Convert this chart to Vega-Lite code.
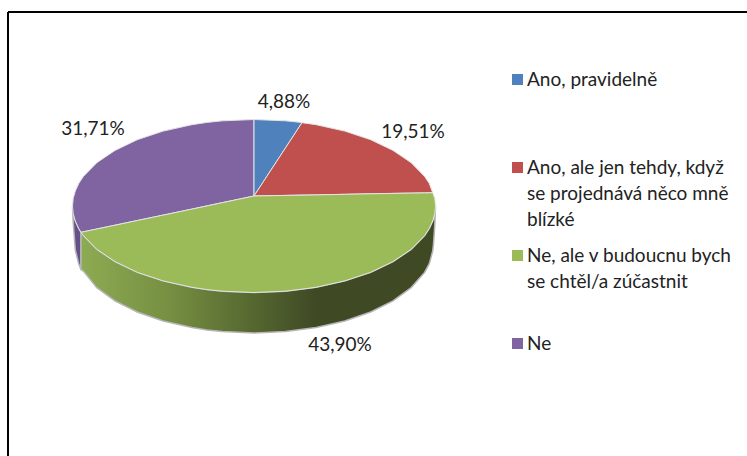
{
  "$schema": "https://vega.github.io/schema/vega-lite/v6.json",
  "width": 747, "height": 456,
  "autosize": "none",
  "padding": 0,
  "background": "white",
  "view": {"stroke": null},
  "config": {"style": {"guide-label": {"lineHeight": 26}}},
  "datasets": {
    "slices": [
      {"category":"Ne","x":72.5,"y":206,"y2":206},{"category":"Ne","x":73.2,"y":198.5,"y2":213.5},{"category":"Ne","x":75.3,"y":191,"y2":221},{"category":"Ne","x":78.7,"y":183.6,"y2":228.4},{"category":"Ne","x":81,"y":180,"y2":232.3},{"category":"Ne","x":83.4,"y":176.4,"y2":231.8},{"category":"Ne","x":96.8,"y":162.7,"y2":229},{"category":"Ne","x":115,"y":150.4,"y2":225.2},{"category":"Ne","x":137.3,"y":139.7,"y2":220.5},{"category":"Ne","x":163.2,"y":131.1,"y2":215.1},{"category":"Ne","x":191.9,"y":124.7,"y2":209.1},{"category":"Ne","x":207,"y":122.4,"y2":205.9},{"category":"Ne","x":222.5,"y":120.8,"y2":202.6},{"category":"Ne","x":254,"y":119.5,"y2":196},
      {"category":"Ano, pravidelně","x":254,"y":119.5,"y2":196},{"category":"Ano, pravidelně","x":285.5,"y":120.8,"y2":147.9},{"category":"Ano, pravidelně","x":301,"y":122.4,"y2":124.2},{"category":"Ano, pravidelně","x":302,"y":122.7,"y2":122.7},
      {"category":"Ano, ale jen tehdy, když se projednává něco mně blízké","x":254,"y":196,"y2":196},{"category":"Ano, ale jen tehdy, když se projednává něco mně blízké","x":302,"y":122.7,"y2":195.1},{"category":"Ano, ale jen tehdy, když se projednává něco mně blízké","x":316.1,"y":124.7,"y2":194.9},{"category":"Ano, ale jen tehdy, když se projednává něco mně blízké","x":344.8,"y":131.1,"y2":194.3},{"category":"Ano, ale jen tehdy, když se projednává něco mně blízké","x":370.7,"y":139.7,"y2":193.8},{"category":"Ano, ale jen tehdy, když se projednává něco mně blízké","x":393,"y":150.4,"y2":193.4},{"category":"Ano, ale jen tehdy, když se projednává něco mně blízké","x":411.2,"y":162.7,"y2":193.1},{"category":"Ano, ale jen tehdy, když se projednává něco mně blízké","x":424.6,"y":176.4,"y2":192.9},{"category":"Ano, ale jen tehdy, když se projednává něco mně blízké","x":429.3,"y":183.6,"y2":192.8},{"category":"Ano, ale jen tehdy, když se projednává něco mně blízké","x":432.7,"y":192.7,"y2":192.7},
      {"category":"Ne, ale v budoucnu bych se chtěl/a zúčastnit","x":81,"y":232.3,"y2":232.3},{"category":"Ne, ale v budoucnu bych se chtěl/a zúčastnit","x":83.4,"y":231.8,"y2":235.6},{"category":"Ne, ale v budoucnu bych se chtěl/a zúčastnit","x":96.8,"y":229,"y2":249.3},{"category":"Ne, ale v budoucnu bych se chtěl/a zúčastnit","x":115,"y":225.2,"y2":261.6},{"category":"Ne, ale v budoucnu bych se chtěl/a zúčastnit","x":137.3,"y":220.5,"y2":272.3},{"category":"Ne, ale v budoucnu bych se chtěl/a zúčastnit","x":163.2,"y":215.1,"y2":280.9},{"category":"Ne, ale v budoucnu bych se chtěl/a zúčastnit","x":191.9,"y":209.1,"y2":287.3},{"category":"Ne, ale v budoucnu bych se chtěl/a zúčastnit","x":207,"y":205.9,"y2":289.6},{"category":"Ne, ale v budoucnu bych se chtěl/a zúčastnit","x":222.5,"y":202.6,"y2":291.2},{"category":"Ne, ale v budoucnu bych se chtěl/a zúčastnit","x":254,"y":196,"y2":292.5},{"category":"Ne, ale v budoucnu bych se chtěl/a zúčastnit","x":285.5,"y":195.4,"y2":291.2},{"category":"Ne, ale v budoucnu bych se chtěl/a zúčastnit","x":316.1,"y":194.9,"y2":287.3},{"category":"Ne, ale v budoucnu bych se chtěl/a zúčastnit","x":344.8,"y":194.3,"y2":280.9},{"category":"Ne, ale v budoucnu bych se chtěl/a zúčastnit","x":370.7,"y":193.8,"y2":272.3},{"category":"Ne, ale v budoucnu bych se chtěl/a zúčastnit","x":393,"y":193.4,"y2":261.6},{"category":"Ne, ale v budoucnu bych se chtěl/a zúčastnit","x":411.2,"y":193.1,"y2":249.3},{"category":"Ne, ale v budoucnu bych se chtěl/a zúčastnit","x":424.6,"y":192.9,"y2":235.6},{"category":"Ne, ale v budoucnu bych se chtěl/a zúčastnit","x":429.3,"y":192.8,"y2":228.4},{"category":"Ne, ale v budoucnu bych se chtěl/a zúčastnit","x":432.7,"y":192.7,"y2":221},{"category":"Ne, ale v budoucnu bych se chtěl/a zúčastnit","x":434.8,"y":198.5,"y2":213.5},{"category":"Ne, ale v budoucnu bych se chtěl/a zúčastnit","x":435.5,"y":206,"y2":206}
    ],
    "wallGreen": [
      {"x":81,"y":232.3,"y2":269.5},{"x":83.4,"y":235.6,"y2":271},{"x":96.8,"y":249.3,"y2":287.6},{"x":115,"y":261.6,"y2":300.8},{"x":137.3,"y":272.3,"y2":312},{"x":163.2,"y":280.9,"y2":321},{"x":191.9,"y":287.3,"y2":327.6},{"x":207,"y":289.6,"y2":329.9},{"x":222.5,"y":291.2,"y2":331.6},{"x":254,"y":292.5,"y2":333},{"x":285.5,"y":291.2,"y2":331.6},{"x":316.1,"y":287.3,"y2":327.6},{"x":344.8,"y":280.9,"y2":321},{"x":370.7,"y":272.3,"y2":312},{"x":393,"y":261.6,"y2":300.8},{"x":411.2,"y":249.3,"y2":287.6},{"x":424.6,"y":235.6,"y2":272.4},{"x":429.3,"y":228.4,"y2":263.7},{"x":432.7,"y":221,"y2":251},{"x":433.5,"y":219,"y2":244},{"x":434.8,"y":213.5,"y2":225},{"x":435.5,"y":206,"y2":206}
    ],
    "wallPurple": [
      {"x":72.5,"y":206,"y2":206},{"x":73.2,"y":213.5,"y2":222},{"x":75.3,"y":221,"y2":250},{"x":78.7,"y":228.4,"y2":263.7},{"x":81,"y":232.3,"y2":269.5}
    ],
    "labels": [
      {"label":"4,88%","x":284,"y":102},{"label":"19,51%","x":413,"y":131.5},{"label":"31,71%","x":93,"y":129},{"label":"43,90%","x":340,"y":345}
    ],
    "frame": [
      {"x":8,"y":12,"x2":747,"y2":12},{"x":8,"y":12,"x2":8,"y2":456}
    ]
  },
  "layer": [
    {
      "data": {"name": "wallPurple"},
      "mark": {"type": "area", "color": "#66508a", "stroke": "#b5b5b5", "strokeWidth": 1.5, "interpolate": "linear"},
      "encoding": {
        "x": {"field": "x", "type": "quantitative", "scale": {"domain": [0, 747], "nice": false, "zero": false}, "axis": null},
        "y": {"field": "y", "type": "quantitative", "scale": {"domain": [456, 0], "nice": false, "zero": false}, "axis": null},
        "y2": {"field": "y2"}
      }
    },
    {
      "data": {"name": "wallGreen"},
      "mark": {"type": "area", "stroke": "#b5b5b5", "strokeWidth": 1.5,
        "color": {"gradient": "linear", "x1": 0, "x2": 1, "y1": 0, "y2": 0,
          "stops": [{"offset": 0, "color": "#8dab52"}, {"offset": 0.25, "color": "#768f42"}, {"offset": 0.48, "color": "#566830"}, {"offset": 0.66, "color": "#3f4a25"}, {"offset": 1, "color": "#3f4a25"}]}},
      "encoding": {
        "x": {"field": "x", "type": "quantitative", "axis": null},
        "y": {"field": "y", "type": "quantitative", "axis": null},
        "y2": {"field": "y2"}
      }
    },
    {
      "data": {"name": "slices"},
      "mark": {"type": "area", "stroke": "#e4e4e4", "strokeWidth": 1},
      "encoding": {
        "x": {"field": "x", "type": "quantitative", "axis": null},
        "y": {"field": "y", "type": "quantitative", "axis": null},
        "y2": {"field": "y2"},
        "fill": {
          "field": "category", "type": "nominal",
          "scale": {
            "domain": ["Ano, pravidelně", "Ano, ale jen tehdy, když se projednává něco mně blízké", "Ne, ale v budoucnu bych se chtěl/a zúčastnit", "Ne"],
            "range": ["#4f81bd", "#c0504d", "#9bbb59", "#8064a2"]
          },
          "legend": {
            "orient": "none", "legendX": 508, "legendY": 70, "title": null,
            "symbolType": "square", "symbolSize": 121, "symbolStrokeWidth": 0, "symbolOffset": 0,
            "labelFont": "Lato", "labelFontSize": 19, "labelColor": "#222222", "labelLimit": 300, "labelOffset": 0,
            "rowPadding": 16,
            "labelExpr": "datum.label == 'Ano, pravidelně' ? ['Ano, pravidelně', '', ''] : datum.label == 'Ne' ? ['Ne', '', ''] : datum.label == 'Ne, ale v budoucnu bych se chtěl/a zúčastnit' ? ['Ne, ale v budoucnu bych', 'se chtěl/a zúčastnit', ''] : ['Ano, ale jen tehdy, když', 'se projednává něco mně', 'blízké']"
          }
        }
      }
    },
    {
      "data": {"name": "labels"},
      "mark": {"type": "text", "font": "Lato", "fontSize": 19, "color": "#222222", "align": "center", "baseline": "middle"},
      "encoding": {
        "x": {"field": "x", "type": "quantitative", "axis": null},
        "y": {"field": "y", "type": "quantitative", "axis": null},
        "text": {"field": "label"}
      }
    },
    {
      "data": {"name": "frame"},
      "mark": {"type": "rule", "color": "#000000", "strokeWidth": 2},
      "encoding": {
        "x": {"field": "x", "type": "quantitative", "axis": null},
        "y": {"field": "y", "type": "quantitative", "axis": null},
        "x2": {"field": "x2"},
        "y2": {"field": "y2"}
      }
    }
  ]
}
